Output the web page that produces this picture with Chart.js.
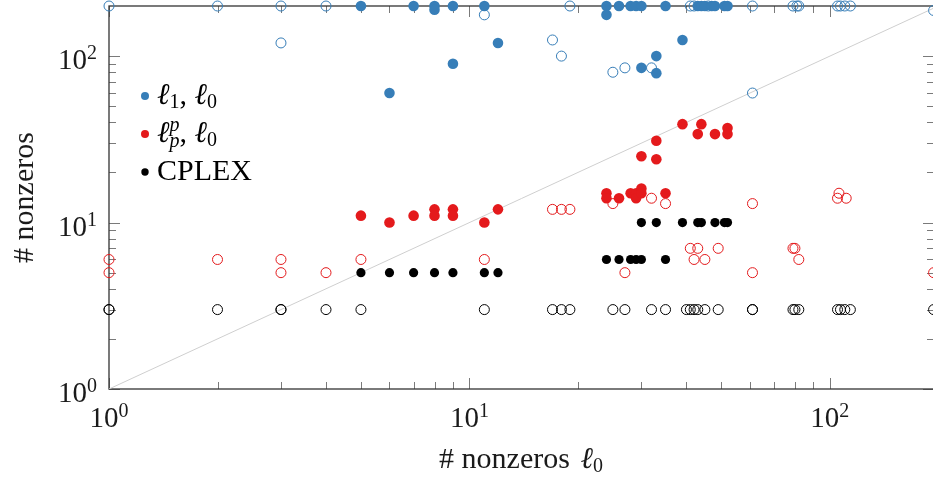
<!DOCTYPE html>
<html>
<head>
<meta charset="utf-8">
<script src="https://cdn.jsdelivr.net/npm/chart.js@4.4.1/dist/chart.umd.min.js"></script>
<style>
	html, body { margin: 0; padding: 0; background: #fff; overflow: hidden; }
	#wrap { width: 933px; height: 481px; position: relative; overflow: hidden; }
</style>
</head>
<body>
<div id="wrap"><canvas id="myChart" width="940" height="481"></canvas></div>
<script>
	'use strict'

	// axis ranges and ticks
	const xMin = 1, xMax = 194.5;
	const yMin = 1, yMax = 200;
	const majorTicks = [1, 10, 100];
	const tickExponents = ['0', '1', '2'];
	const minorTicks = [2, 3, 4, 5, 6, 7, 8, 9, 20, 30, 40, 50, 60, 70, 80, 90];

	const xTitle = '# nonzeros ';
	const yTitle = '# nonzeros';

	// l1, l0 (blue)
	const l1Filled = [
		[5, 200], [7, 200], [8, 200], [9, 200], [11, 200], [24, 200], [26, 200], [28, 200],
		[29, 200], [30, 200], [35, 200], [43, 200], [44, 200], [45, 200], [47, 200], [48, 200],
		[51, 200], [52, 200],
		[8, 190], [24, 177], [39, 125], [12, 120], [33, 100], [9, 90], [30, 85], [33, 79], [6, 60]
	];
	const l1Open = [
		[1, 200], [2, 200], [3, 200], [4, 200], [19, 200], [41, 200], [42, 200], [46, 200],
		[61, 200], [79, 200], [81, 200], [82, 200], [105, 200], [107, 200], [110, 200], [114, 200],
		[194, 188], [11, 177], [17, 125], [3, 120], [18, 100], [27, 85], [32, 85], [25, 80], [61, 60]
	];

	// lp^p, l0 (red)
	const lpFilled = [
		[5, 11], [6, 10], [7, 11], [8, 12], [8, 11], [9, 12], [9, 11], [11, 10], [12, 12],
		[24, 15], [24, 14], [26, 14], [28, 15], [29, 15], [29, 14], [30, 16], [30, 15], [35, 15],
		[30, 25], [33, 24], [33, 31], [39, 39], [44, 39], [43, 34], [48, 34], [52, 37], [52, 34]
	];
	const lpOpen = [
		[1, 6], [1, 5], [2, 6], [3, 6], [3, 5], [4, 5], [5, 6], [11, 6],
		[17, 12], [18, 12], [19, 12], [25, 13], [32, 14], [35, 13], [61, 13],
		[105, 14], [106, 15], [111, 14],
		[41, 7], [43, 7], [49, 7], [79, 7], [80, 7],
		[42, 6], [45, 6], [82, 6],
		[27, 5], [61, 5], [194, 5]
	];

	// CPLEX (black)
	const cplexFilled = [
		[5, 5], [6, 5], [7, 5], [8, 5], [9, 5], [11, 5], [12, 5],
		[24, 6], [26, 6], [28, 6], [29, 6], [30, 6], [35, 6],
		[30, 10], [33, 10], [39, 10], [43, 10], [44, 10], [48, 10], [51, 10], [52, 10]
	];
	const cplexOpen = [
		[1, 3], [1, 3], [2, 3], [3, 3], [3, 3], [4, 3], [5, 3], [11, 3],
		[17, 3], [18, 3], [19, 3], [25, 3], [27, 3], [32, 3], [35, 3],
		[40, 3], [41, 3], [42, 3], [43, 3], [45, 3], [49, 3], [61, 3], [61, 3],
		[79, 3], [80, 3], [82, 3], [105, 3], [107, 3], [110, 3], [114, 3], [194, 3]
	];

	const diagonal = [[xMin, xMin], [xMax, xMax]];

	const blue = '#377eb8';
	const red = '#e41a1c';
	const black = '#000000';

	const serif = '"Liberation Serif", "DejaVu Serif", serif';
	const mainFont = '30px ' + serif;
	const ellFont = 'italic 30px "DejaVu Serif", serif';
	const scriptFont = '20px ' + serif;
	const italicScript = 'italic 20px ' + serif;
	const tickFont = '29px ' + serif;
	const expFont = '20px ' + serif;

	function pts(list) {
		return list.map(([x, y]) => ({ x, y }));
	}

	function filledSet(list, color, r) {
		return {
			data: pts(list),
			backgroundColor: color,
			borderWidth: 0,
			pointRadius: r,
			clip: false
		};
	}

	function openSet(list, color, r) {
		return {
			data: pts(list),
			backgroundColor: 'rgba(0,0,0,0)',
			borderColor: color,
			borderWidth: 1,
			pointRadius: r,
			clip: false
		};
	}

	// draw text pieces one after another (for sub/superscripts)
	function drawRuns(ctx, runs, x, y, align) {
		let total = 0;
		runs.forEach((r) => {
			ctx.font = r.font;
			r.w = ctx.measureText(r.text).width + (r.pad || 0);
			if (r.advance !== false) total += r.w;
		});
		let cx = x;
		if (align === 'center') cx = x - total / 2;
		if (align === 'right') cx = x - total;
		ctx.textAlign = 'left';
		ctx.textBaseline = 'alphabetic';
		runs.forEach((r) => {
			ctx.font = r.font;
			ctx.fillText(r.text, cx, y + (r.dy || 0));
			if (r.advance !== false) cx += r.w;
		});
	}

	const axesPlugin = {
		id: 'axes',
		beforeDraw(chart) {
			const ctx = chart.ctx;
			ctx.save();
			ctx.fillStyle = '#fff';
			ctx.fillRect(0, 0, chart.width, chart.height);
			ctx.restore();
		},
		beforeDatasetsDraw(chart) {
			const ctx = chart.ctx;
			const a = chart.chartArea;
			const xs = chart.scales.x;
			const ys = chart.scales.y;
			ctx.save();
			ctx.lineWidth = 1;
			ctx.strokeStyle = '#7a7a7a';
			const tick = (v, len) => {
				if (v >= xMin && v <= xMax) {
					const px = Math.round(xs.getPixelForValue(v)) + 0.5;
					ctx.beginPath();
					ctx.moveTo(px, a.bottom); ctx.lineTo(px, a.bottom - len);
					ctx.moveTo(px, a.top); ctx.lineTo(px, a.top + len);
					ctx.stroke();
				}
				if (v >= yMin && v <= yMax) {
					const py = Math.round(ys.getPixelForValue(v)) + 0.5;
					ctx.beginPath();
					ctx.moveTo(a.left, py); ctx.lineTo(a.left + len, py);
					ctx.moveTo(a.right, py); ctx.lineTo(a.right - len, py);
					ctx.stroke();
				}
			};
			minorTicks.forEach((v) => tick(v, 7));
			majorTicks.forEach((v) => tick(v, 11));

			// frame (right side falls just past the visible edge)
			ctx.strokeStyle = '#333';
			ctx.lineWidth = 1.3;
			ctx.strokeRect(a.left, a.top, a.right - a.left, a.bottom - a.top);
			ctx.restore();
		},
		afterDraw(chart) {
			const ctx = chart.ctx;
			const a = chart.chartArea;
			const xs = chart.scales.x;
			const ys = chart.scales.y;
			ctx.save();
			ctx.fillStyle = '#1a1a1a';

			majorTicks.forEach((v, i) => {
				const runs = [
					{ text: '10', font: tickFont },
					{ text: tickExponents[i], font: expFont, dy: -10 }
				];
				drawRuns(ctx, runs, xs.getPixelForValue(v), 427, 'center');
				drawRuns(ctx, runs.map((r) => Object.assign({}, r)), 97, ys.getPixelForValue(v) + 13, 'right');
			});

			// axis titles
			drawRuns(ctx, [
				{ text: xTitle, font: mainFont, pad: 3 },
				{ text: 'ℓ', font: ellFont },
				{ text: '0', font: scriptFont, dy: 4 }
			], (a.left + 933) / 2, 468, 'center');

			ctx.save();
			ctx.translate(33, (a.top + a.bottom) / 2);
			ctx.rotate(-Math.PI / 2);
			drawRuns(ctx, [{ text: yTitle, font: mainFont }], 0, 0, 'center');
			ctx.restore();

			// legend
			ctx.fillStyle = '#000';
			const rows = [
				{ color: blue, r: 4, dotY: 96, base: 104, runs: [
					{ text: 'ℓ', font: ellFont },
					{ text: '1', font: scriptFont, dy: 4 },
					{ text: ', ', font: mainFont },
					{ text: 'ℓ', font: ellFont },
					{ text: '0', font: scriptFont, dy: 4 }
				] },
				{ color: red, r: 4, dotY: 134, base: 142, runs: [
					{ text: 'ℓ', font: ellFont },
					{ text: 'p', font: italicScript, dy: -11, advance: false },
					{ text: 'p', font: italicScript, dy: 5 },
					{ text: ', ', font: mainFont },
					{ text: 'ℓ', font: ellFont },
					{ text: '0', font: scriptFont, dy: 4 }
				] },
				{ color: black, r: 3.7, dotY: 172, base: 180, runs: [
					{ text: 'CPLEX', font: mainFont }
				] }
			];
			rows.forEach((row) => {
				ctx.fillStyle = row.color;
				ctx.beginPath();
				ctx.arc(145, row.dotY, row.r, 0, Math.PI * 2);
				ctx.fill();
				ctx.fillStyle = '#000';
				drawRuns(ctx, row.runs, 157, row.base, 'left');
			});
			ctx.restore();
		}
	};

	const ctx = document.getElementById('myChart');

	new Chart(ctx, {
		type: 'scatter',
		data: {
			datasets: [
				filledSet(cplexFilled, black, 4.6),
				openSet(cplexOpen, black, 5),
				filledSet(lpFilled, red, 5.3),
				openSet(lpOpen, red, 5),
				filledSet(l1Filled, blue, 5.3),
				openSet(l1Open, blue, 5),
				{
					type: 'line',
					data: pts(diagonal),
					borderColor: '#cfcfcf',
					borderWidth: 1,
					pointRadius: 0,
					fill: false,
					order: 10
				}
			]
		},
		options: {
			responsive: false,
			animation: false,
			layout: {
				padding: { left: 109, right: 6, top: 6, bottom: 92 }
			},
			plugins: {
				legend: { display: false },
				tooltip: { enabled: false }
			},
			scales: {
				x: { type: 'logarithmic', min: xMin, max: xMax, display: false },
				y: { type: 'logarithmic', min: yMin, max: yMax, display: false }
			}
		},
		plugins: [axesPlugin]
	});
</script>
</body>
</html>
